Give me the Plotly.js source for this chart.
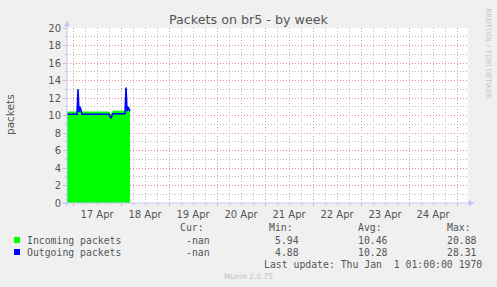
<!DOCTYPE html>
<html>
<head>
<meta charset="utf-8">
<script src="https://cdn.plot.ly/plotly-3.0.1.min.js"></script>
<style>
html,body{margin:0;padding:0;background:#F0F0F0;}
#chart{width:497px;height:287px;}
</style>
</head>
<body>
<div id="chart"></div>
<script>
// ---- data (30-minute samples starting 16 Apr 21:00) ----
const startTime = '2024-04-16T21:00:00';
const stepMinutes = 30;
const incoming = [
  10.4,10.4,10.4,10.4,10.4,10.4,10.4,10.4,10.4,10.4,10.4,
  10.4,10.9,10.9,10.5,
  10.4,10.4,10.4,10.4,10.4,10.4,10.4,10.4,10.4,10.4,10.4,10.4,10.4,10.4,
  10.4,10.4,10.4,10.4,10.4,10.4,10.4,10.4,10.4,10.4,10.4,10.4,10.4,10.4,
  10.2,10.1,10.3,
  10.5,10.5,10.5,10.5,10.5,10.5,10.5,10.5,10.5,10.5,10.5,10.5,
  10.4,10.6,11.0,11.0,10.6,10.5
];
const outgoing = [
  10.15,10.15,10.15,10.15,10.15,10.15,10.15,10.15,10.15,10.15,10.15,
  13.0,10.4,11.0,10.4,
  10.15,10.15,10.15,10.15,10.15,10.15,10.15,10.15,10.15,10.15,10.15,10.15,10.15,10.15,
  10.15,10.15,10.15,10.15,10.15,10.15,10.15,10.15,10.15,10.15,10.15,10.15,10.15,10.15,
  9.9,9.7,10.0,
  10.2,10.2,10.2,10.2,10.2,10.2,10.2,10.2,10.2,10.2,10.2,10.2,
  10.2,13.2,10.5,11.0,10.6,10.5
];
const seriesNames = ['Incoming packets', 'Outgoing packets'];
const seriesColors = ['#00FF00', '#0000FF'];
const statHeaders = ['Cur:', 'Min:', 'Avg:', 'Max:'];
const statsIncoming = ['-nan', '5.94', '10.46', '20.88'];
const statsOutgoing = ['-nan', '4.88', '10.28', '28.31'];
const chartTitle = 'Packets on br5 - by week';
const yTitle = 'packets';
const lastUpdate = 'Last update: Thu Jan  1 01:00:00 1970';
const footer = 'Munin 2.0.75';
const sideText = 'RRDTOOL / TOBI OETIKER';
const xRange = ['2024-04-16 21:00', '2024-04-25 05:30'];
const yRange = [0, 20];

// times
const t0 = new Date(startTime + 'Z').getTime();
function fmt(ms){ return new Date(ms).toISOString().replace('T',' ').slice(0,19); }
const times = incoming.map((_, i) => fmt(t0 + i * stepMinutes * 60000));

// ---- layout geometry ----
const W = 497, H = 287;
const M = {l: 67, r: 29, t: 28, b: 84};
const PW = W - M.l - M.r, PH = H - M.t - M.b;
const px = x => (x - M.l) / PW;
const py = y => (H - M.b - y) / PH;

const mono = 'DejaVu Sans Mono, monospace';
const sans = 'DejaVu Sans, sans-serif';
const txt = '#555555';

const traces = [
  {x: times, y: incoming, type: 'scatter', mode: 'lines', fill: 'tozeroy',
   fillcolor: seriesColors[0], line: {color: seriesColors[0], width: 1}, name: seriesNames[0],
   hoverinfo: 'skip'},
  {x: times, y: outgoing, type: 'scatter', mode: 'lines',
   line: {color: seriesColors[1], width: 1.6}, name: seriesNames[1], hoverinfo: 'skip'}
];

const annotations = [];
function addText(text, x, y, opts){
  annotations.push(Object.assign({text: text, xref: 'paper', yref: 'paper', x: px(x), y: py(y),
    showarrow: false, xanchor: 'left', yanchor: 'middle', borderpad: 0,
    font: {family: mono, size: 9.8, color: txt}}, opts || {}));
}
// title
addText(chartTitle, 248.5, 19, {xanchor: 'center', font: {family: sans, size: 12.7, color: txt}});
// y title
addText(yTitle, 10, 115, {xanchor: 'center', textangle: -90, font: {family: sans, size: 10.5, color: txt}});
// side text
addText(sideText, 487.5, 53, {xanchor: 'center', textangle: 90, font: {family: sans, size: 7, color: '#c4c4c4'}});
// legend headers
const colRight = [210.5, 299.5, 388.5, 477.5];
statHeaders.forEach((h, i) => addText(h, colRight[i] - 6, 227, {xanchor: 'right'}));
addText(seriesNames[0], 26, 240);
addText(seriesNames[1], 26, 252);
statsIncoming.forEach((v, i) => addText(v, colRight[i], 240, {xanchor: 'right'}));
statsOutgoing.forEach((v, i) => addText(v, colRight[i], 252, {xanchor: 'right'}));
addText(lastUpdate, 483, 264, {xanchor: 'right'});
addText(footer, 248, 276, {xanchor: 'center', font: {family: sans, size: 7.5, color: '#c0c0c0'}});

const axisCol = '#c4c4f4';
const shapes = [
  // legend squares
  {type: 'rect', xref: 'paper', yref: 'paper', x0: px(14), x1: px(20), y0: py(237), y1: py(243),
   fillcolor: seriesColors[0], line: {width: 0}},
  {type: 'rect', xref: 'paper', yref: 'paper', x0: px(14), x1: px(20), y0: py(249), y1: py(255),
   fillcolor: seriesColors[1], line: {width: 0}},
  // axis lines
  {type: 'line', xref: 'paper', yref: 'paper', x0: px(67), x1: px(67), y0: py(206), y1: py(24),
   line: {color: axisCol, width: 1}},
  {type: 'line', xref: 'paper', yref: 'paper', x0: px(63), x1: px(470), y0: py(203), y1: py(203),
   line: {color: axisCol, width: 1}},
  // arrows
  {type: 'path', xref: 'paper', yref: 'paper',
   path: `M ${px(64.5)} ${py(26)} L ${px(67)} ${py(21)} L ${px(69.5)} ${py(26)} Z`,
   fillcolor: axisCol, line: {color: axisCol, width: 0.5}},
  {type: 'path', xref: 'paper', yref: 'paper',
   path: `M ${px(469)} ${py(200.5)} L ${px(474)} ${py(203)} L ${px(469)} ${py(205.5)} Z`,
   fillcolor: axisCol, line: {color: axisCol, width: 0.5}}
];

const majorGrid = 'rgb(228,140,140)';
const minorGrid = 'rgb(185,185,185)';
const majorGridV = 'rgb(230,150,150)';
const minorGridV = 'rgb(190,190,190)';
const dotted = '1px,2px';

const layout = {
  width: W, height: H,
  margin: M,
  paper_bgcolor: '#F0F0F0',
  plot_bgcolor: '#FFFFFF',
  showlegend: false,
  xaxis: {
    type: 'date', range: xRange, fixedrange: true,
    tick0: '2024-04-17', dtick: 86400000, tickformat: '%d %b', ticklabelmode: 'period',
    showgrid: true, gridcolor: majorGridV, griddash: dotted, gridwidth: 1,
    ticks: 'outside', ticklen: 2, tickcolor: majorGridV,
    minor: {dtick: 6 * 3600000, showgrid: true, gridcolor: minorGridV, griddash: dotted,
            ticks: 'outside', ticklen: 1, tickcolor: minorGridV},
    zeroline: false, showline: false,
    tickfont: {family: sans, size: 10, color: txt}
  },
  yaxis: {
    range: yRange, fixedrange: true, dtick: 2, tick0: 0,
    showgrid: true, gridcolor: majorGrid, griddash: dotted, gridwidth: 1,
    ticks: 'outside', ticklen: 3, tickcolor: '#c0c0c0',
    minor: {dtick: 1, showgrid: true, gridcolor: minorGrid, griddash: dotted,
            ticks: 'outside', ticklen: 1, tickcolor: minorGrid},
    zeroline: false, showline: false,
    tickfont: {family: sans, size: 10, color: txt}
  },
  annotations: annotations,
  shapes: shapes
};

Plotly.newPlot('chart', traces, layout, {staticPlot: true, displayModeBar: false});
</script>
</body>
</html>
